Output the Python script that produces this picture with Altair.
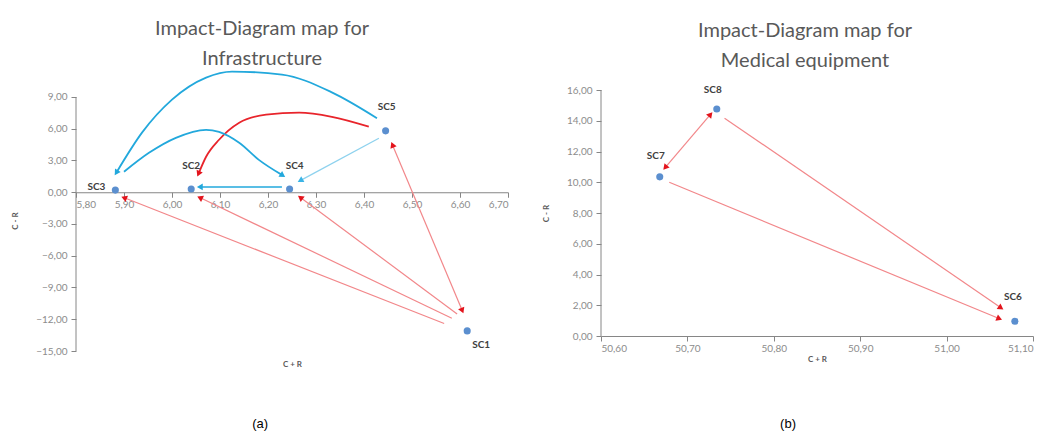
import math
import altair as alt
import pandas as pd

# ---------------- Panel (a): Infrastructure ----------------
a_names = ["SC1", "SC2", "SC3", "SC4", "SC5"]
a_x = [6.615, 6.040, 5.882, 6.245, 6.445]
a_y = [-13.1, 0.3, 0.2, 0.3, 5.8]

# straight arrows (start -> end)
a_seg_x1 = [6.567, 6.583, 6.594, 6.604, 6.229, 6.431]
a_seg_y1 = [-12.4, -11.9, -11.5, -11.1, 0.5, 5.1]
a_seg_x2 = [5.902, 6.060, 6.269, 6.460, 6.060, 6.269]
a_seg_y2 = [-0.55, -0.55, -0.55, 4.4, 0.5, 1.15]
a_seg_kind = ["red", "red", "red", "red", "blue", "lightblue"]
a_seg_both = [False, False, False, True, False, False]

# curved arrows (start -> end)
a_curve_red_x = [6.410, 6.333, 6.265, 6.196, 6.140, 6.098, 6.071, 6.056]
a_curve_red_y = [6.20, 7.13, 7.52, 7.33, 6.57, 4.96, 3.35, 1.83]
a_curve_big_x = [6.427, 6.333, 6.229, 6.125, 6.071, 6.000, 5.9375, 5.885]
a_curve_big_y = [7.00, 9.44, 11.12, 11.40, 10.83, 8.75, 5.63, 1.92]
a_curve_mid_x = [5.900, 5.952, 6.008, 6.071, 6.098, 6.140, 6.181, 6.229]
a_curve_mid_y = [1.93, 3.72, 5.14, 5.90, 5.70, 4.67, 3.06, 1.64]

a_xticks = [5.8, 5.9, 6.0, 6.1, 6.2, 6.3, 6.4, 6.5, 6.6, 6.7]
a_yticks = [-15, -12, -9, -6, -3, 0, 3, 6, 9]

# ---------------- Panel (b): Medical equipment ----------------
b_names = ["SC6", "SC7", "SC8"]
b_x = [51.079, 50.668, 50.734]
b_y = [0.96, 10.35, 14.76]

b_seg_x1 = [50.675, 50.743, 50.679]
b_seg_y1 = [11.0, 14.17, 10.0]
b_seg_x2 = [50.726, 51.062, 51.060]
b_seg_y2 = [14.36, 1.87, 1.15]
b_seg_kind = ["red", "red", "red"]
b_seg_both = [True, False, False]

b_xticks = [50.6, 50.7, 50.8, 50.9, 51.0, 51.1]
b_yticks = [0, 2, 4, 6, 8, 10, 12, 14, 16]

# ---------------- styles ----------------
STYLE = {
    "red": ("#f2878a", 1.2, "#e3141c"),
    "redcurve": ("#e8242b", 1.8, "#e3141c"),
    "blue": ("#22a8dc", 1.6, "#22a8dc"),
    "bluecurve": ("#22a8dc", 1.8, "#22a8dc"),
    "lightblue": ("#8ed2ee", 1.3, "#3ab4e6"),
}
POINT_COLOR = "#5b8fcf"
FONT = "Lato"
AXIS_GRAY = "#868686"
LABEL_GRAY = "#8c8c8c"

a_label_off = {"SC1": (14, 14), "SC2": (0, -23), "SC3": (-19, -3), "SC4": (5, -23), "SC5": (1, -24)}
b_label_off = {"SC6": (-2, -24), "SC7": (-4, -21), "SC8": (-4, -19)}

label_expr = "replace(format(datum.value, '.2f'), '.', ',')"


def angle_of(dx, dy, sx, sy):
    # dx, dy in data units; convert to screen pixels (y downward)
    px = dx * sx
    py = -dy * sy
    return (math.degrees(math.atan2(px, -py)) + 360) % 360


def panel(names, px, py, sx1, sy1, sx2, sy2, kinds, both, curves,
          xdom, ydom, xticks, yticks, width, height, title, label_off,
          x_offset, x_title_y, title_offset, title_dx):
    sx = width / (xdom[1] - xdom[0])
    sy = height / (ydom[1] - ydom[0])
    xs = alt.Scale(domain=xdom, nice=False, zero=False)
    ys = alt.Scale(domain=ydom, nice=False, zero=False)

    seg_rows, head_rows = [], []
    for i in range(len(sx1)):
        col, w, hc = STYLE[kinds[i]]
        seg_rows.append(dict(x=sx1[i], y=sy1[i], x2=sx2[i], y2=sy2[i], c=col, w=w))
        head_rows.append(dict(x=sx2[i], y=sy2[i], c=hc,
                              a=angle_of(sx2[i] - sx1[i], sy2[i] - sy1[i], sx, sy)))
        if both[i]:
            head_rows.append(dict(x=sx1[i], y=sy1[i], c=hc,
                                  a=angle_of(sx1[i] - sx2[i], sy1[i] - sy2[i], sx, sy)))
    curve_rows = []
    for k, (cx, cy, kind) in enumerate(curves):
        col, w, hc = STYLE[kind]
        for j in range(len(cx)):
            curve_rows.append(dict(x=cx[j], y=cy[j], g=k, c=col, w=w))
        head_rows.append(dict(x=cx[-1], y=cy[-1], c=hc,
                              a=angle_of(cx[-1] - cx[-2], cy[-1] - cy[-2], sx, sy)))

    pts = pd.DataFrame(dict(name=names, x=px, y=py))

    common = dict(grid=False, labelExpr=label_expr, labelOverlap=False,
                  domainColor=AXIS_GRAY, tickColor=AXIS_GRAY, labelColor=LABEL_GRAY,
                  labelFont=FONT, labelFontSize=10, titleFont=FONT, titleFontSize=8,
                  titleColor="#595959", titleFontWeight="bold", tickSize=5)
    xaxis = alt.Axis(values=xticks, title="C + R", offset=x_offset, titleY=x_title_y,
                     titleBaseline="middle", **common)
    yaxis = alt.Axis(values=yticks, title="C - R", labelPadding=4, titlePadding=16,
                     domain=False, **common)
    X = lambda f="x:Q": alt.X(f, scale=xs, axis=xaxis)
    Y = lambda f="y:Q": alt.Y(f, scale=ys, axis=yaxis)

    # vertical axis line spanning the tick range
    yline = alt.Chart(pd.DataFrame(dict(x=[xdom[0]], y=[yticks[0]], y2=[yticks[-1]]))).mark_rule(
        color=AXIS_GRAY, strokeWidth=1).encode(x=X(), y=Y(), y2="y2:Q")

    segs = alt.Chart(pd.DataFrame(seg_rows)).mark_rule(clip=False).encode(
        x=X(), y=Y(), x2="x2:Q", y2="y2:Q",
        color=alt.Color("c:N", scale=None),
        strokeWidth=alt.StrokeWidth("w:Q", scale=None),
    )
    layers = [yline, segs]
    if curve_rows:
        layers.append(alt.Chart(pd.DataFrame(curve_rows)).mark_line(
            interpolate="monotone", clip=False).encode(
            x=X(), y=Y(), detail="g:N",
            color=alt.Color("c:N", scale=None),
            strokeWidth=alt.StrokeWidth("w:Q", scale=None),
        ))
    heads = alt.Chart(pd.DataFrame(head_rows)).mark_point(
        shape="triangle", filled=True, size=45, opacity=1, clip=False).encode(
        x=X(), y=Y(),
        color=alt.Color("c:N", scale=None),
        angle=alt.Angle("a:Q", scale=None),
    )
    layers.append(heads)
    base_pts = alt.Chart(pts)
    layers.append(base_pts.mark_circle(size=50, opacity=1, color=POINT_COLOR).encode(x=X(), y=Y()))
    for n in names:
        dx, dy = label_off[n]
        layers.append(base_pts.transform_filter(alt.datum.name == n).mark_text(
            dx=dx, dy=dy, font=FONT, fontSize=10, fontWeight="bold", color="#404040").encode(
            x=X(), y=Y(), text="name:N"))

    return alt.layer(*layers).properties(
        width=width, height=height,
        title=alt.TitleParams(title, font=FONT, fontSize=20, fontWeight="normal",
                              color="#595959", lineHeight=30, anchor="middle",
                              offset=title_offset, dx=title_dx),
    )


left = panel(a_names, a_x, a_y, a_seg_x1, a_seg_y1, a_seg_x2, a_seg_y2, a_seg_kind, a_seg_both,
             [(a_curve_red_x, a_curve_red_y, "redcurve"),
              (a_curve_big_x, a_curve_big_y, "bluecurve"),
              (a_curve_mid_x, a_curve_mid_y, "bluecurve")],
             [5.8, 6.7], [-15, 9.66], a_xticks, a_yticks,
             432, 261, ["Impact-Diagram map for", "Infrastructure"], a_label_off,
             -158.75, 172, -1, -30)

right = panel(b_names, b_x, b_y, b_seg_x1, b_seg_y1, b_seg_x2, b_seg_y2, b_seg_kind, b_seg_both,
              [], [50.6, 51.1], [0, 16], b_xticks, b_yticks,
              432, 246, ["Impact-Diagram map for", "Medical equipment"], b_label_off,
              0, 23, 14, -12)

cap = dict(orient="bottom", font="Liberation Sans", fontSize=13, fontWeight="normal",
           color="#000000", anchor="middle")
left_c = alt.vconcat(left).properties(title=alt.TitleParams("(a)", offset=50, **cap))
right_c = alt.vconcat(right).properties(title=alt.TitleParams("(b)", offset=55, **cap))

chart = alt.hconcat(left_c, right_c, spacing=33).configure_view(stroke=None).configure_axis(
    labelOverlap=False).properties(
    padding={"left": 3, "top": 10, "right": 5, "bottom": 5})

chart.save("out.html", embed_options={"renderer": "svg", "actions": False})
